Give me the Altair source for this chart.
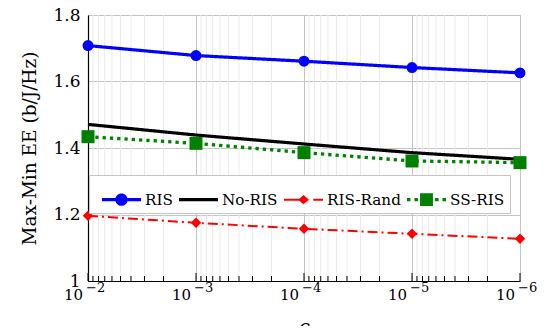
import altair as alt
import pandas as pd

# ---- data ----
eps = [1e-2, 1e-3, 1e-4, 1e-5, 1e-6]
ris = [1.708, 1.678, 1.661, 1.642, 1.626]
no_ris = [1.471, 1.439, 1.412, 1.386, 1.366]
ris_rand = [1.196, 1.175, 1.157, 1.142, 1.127]
ss_ris = [1.434, 1.414, 1.386, 1.361, 1.356]

series_names = ["RIS", "No-RIS", "RIS-Rand", "SS-RIS"]
series_values = [ris, no_ris, ris_rand, ss_ris]

x_ticks = [1e-2, 1e-3, 1e-4, 1e-5, 1e-6]
x_tick_base = ["10", "10", "10", "10", "10"]
x_tick_exp = ["−2", "−3", "−4", "−5", "−6"]
y_ticks = [1.0, 1.2, 1.4, 1.6, 1.8]
minor_ticks = [m * 10.0 ** k for k in range(-6, -2) for m in range(2, 10)]

# ---- styles ----
colors = ["#0000ff", "#000000", "#ff0000", "#008000"]
line_widths = [3.2, 3.2, 2.0, 3.3]
line_dashes = [[1, 0], [1, 0], [10, 4, 2, 4], [3.3, 4]]
marker_shapes = ["circle", None, "diamond", "square"]
marker_sizes = [120, 0, 110, 169]

legend_paths = [
    "M-1,-0.08H1V0.08H-1Z M0.315,0 A0.315,0.315 0 1,1 -0.315,0 A0.315,0.315 0 1,1 0.315,0 Z",
    "M-1,-0.08H1V0.08H-1Z",
    "M-1,-0.05H-0.2V0.05H-1Z M-0.28,0L0,-0.24L0.28,0L0,0.24Z M0.5,-0.05H1V0.05H0.5Z",
    "M-1,-0.085H-0.82V0.085H-1Z M-0.62,-0.085H-0.44V0.085H-0.62Z M-0.33,-0.33H0.33V0.33H-0.33Z "
    "M0.44,-0.085H0.62V0.085H0.44Z M0.82,-0.085H1V0.085H0.82Z",
]

FONT = "DejaVu Serif"
GRID = "#c4c4c4"
H = 266

rows = []
for name, vals in zip(series_names, series_values):
    for e, v in zip(eps, vals):
        rows.append({"series": name, "eps": e, "value": v})
df = pd.DataFrame(rows)

x_scale = alt.Scale(type="log", domain=[1e-6, 1e-2], reverse=True, nice=False)
y_scale = alt.Scale(domain=[1.0, 1.8], nice=False, zero=False)

x_axis = alt.Axis(
    values=x_ticks, labels=False, grid=True, gridColor=GRID, gridWidth=1,
    tickSize=0, domainColor="black", domainWidth=1.2,
    title="ϵ", titleFont=FONT,
    titleFontStyle="italic", titleFontWeight="normal", titleFontSize=19, titleColor="black",
    titlePadding=36,
)
y_axis = alt.Axis(
    values=y_ticks, format=".1~f", grid=True, gridColor=GRID, gridWidth=1, tickSize=0,
    domainColor="black", domainWidth=1.2, labelFont=FONT, labelFontSize=17,
    labelColor="black", labelPadding=8, title="Max-Min EE (b/J/Hz)", titleFont=FONT,
    titleFontSize=18.5, titleFontWeight="normal", titleColor="black", titlePadding=13,
)

X = alt.X("eps:Q", scale=x_scale, axis=x_axis)
Y = alt.Y("value:Q", scale=y_scale, axis=y_axis)

minor_df = pd.DataFrame({"eps": minor_ticks})
major_df = pd.DataFrame({"eps": x_ticks, "base": x_tick_base, "exp": x_tick_exp})

minor_grid = alt.Chart(minor_df).mark_rule(color="#ebebeb", strokeWidth=1).encode(x=X)
minor_ticks_layer = alt.Chart(minor_df).mark_rule(color="black", strokeWidth=1).encode(
    x=X, y=alt.value(H), y2=alt.value(H - 5)
)
major_ticks_layer = alt.Chart(major_df).mark_rule(color="black", strokeWidth=1).encode(
    x=X, y=alt.value(H), y2=alt.value(H - 8)
)
tick_base_layer = alt.Chart(major_df).mark_text(
    font=FONT, fontSize=15, color="black", align="right", baseline="alphabetic", dx=-5
).encode(x=X, y=alt.value(H + 19), text="base:N")
tick_exp_layer = alt.Chart(major_df).mark_text(
    font=FONT, fontSize=13, color="black", align="left", baseline="alphabetic", dx=-2
).encode(x=X, y=alt.value(H + 11), text="exp:N")

line_layers = []
point_layers = []
for i, name in enumerate(series_names):
    sub = alt.Chart(df).transform_filter(alt.datum.series == name)
    line_layers.append(
        sub.mark_line(color=colors[i], strokeWidth=line_widths[i], strokeDash=line_dashes[i]).encode(
            x=X, y=Y
        )
    )
    if marker_shapes[i]:
        point_layers.append(
            sub.mark_point(shape=marker_shapes[i], filled=True, opacity=1, size=marker_sizes[i],
                           color=colors[i], strokeWidth=0).encode(x=X, y=Y)
        )

order = [1, 3, 2, 0]
line_layers = [line_layers[i] for i in order]

legend_def = dict(
    orient="none", legendX=1, legendY=160, direction="horizontal", columns=4,
    padding=5, fillColor="white", strokeColor=GRID, symbolSize=1521, symbolStrokeWidth=0,
    symbolOpacity=1, labelFont=FONT, labelFontSize=15.2, labelColor="black", labelOffset=4,
    columnPadding=6, title=" ", titleOrient="left", titlePadding=8, titleFontSize=15,
    labelExpr="datum.label == 'SS-RIS' ? 'SS-RIS     ' : datum.label",
)

legend_layer = alt.Chart(df).transform_filter("false").mark_point(
    filled=True, size=1521, opacity=1, strokeWidth=0
).encode(
    x=X, y=Y,
    color=alt.Color("series:N", scale=alt.Scale(domain=series_names, range=colors),
                    legend=alt.Legend(**legend_def)),
    shape=alt.Shape("series:N", scale=alt.Scale(domain=series_names, range=legend_paths),
                    legend=alt.Legend(**legend_def)),
)

chart = alt.layer(
    minor_grid, minor_ticks_layer, major_ticks_layer, tick_base_layer, tick_exp_layer,
    *line_layers, *point_layers, legend_layer,
).properties(
    width=432, height=H,
    autosize=alt.AutoSizeParams(type="none"),
    padding={"left": 80, "top": 7, "right": 22, "bottom": 45},
).configure(
    font=FONT, view=alt.ViewConfig(stroke=GRID, strokeWidth=1)
)

chart.save("out.html", embed_options={"renderer": "svg", "actions": False})
